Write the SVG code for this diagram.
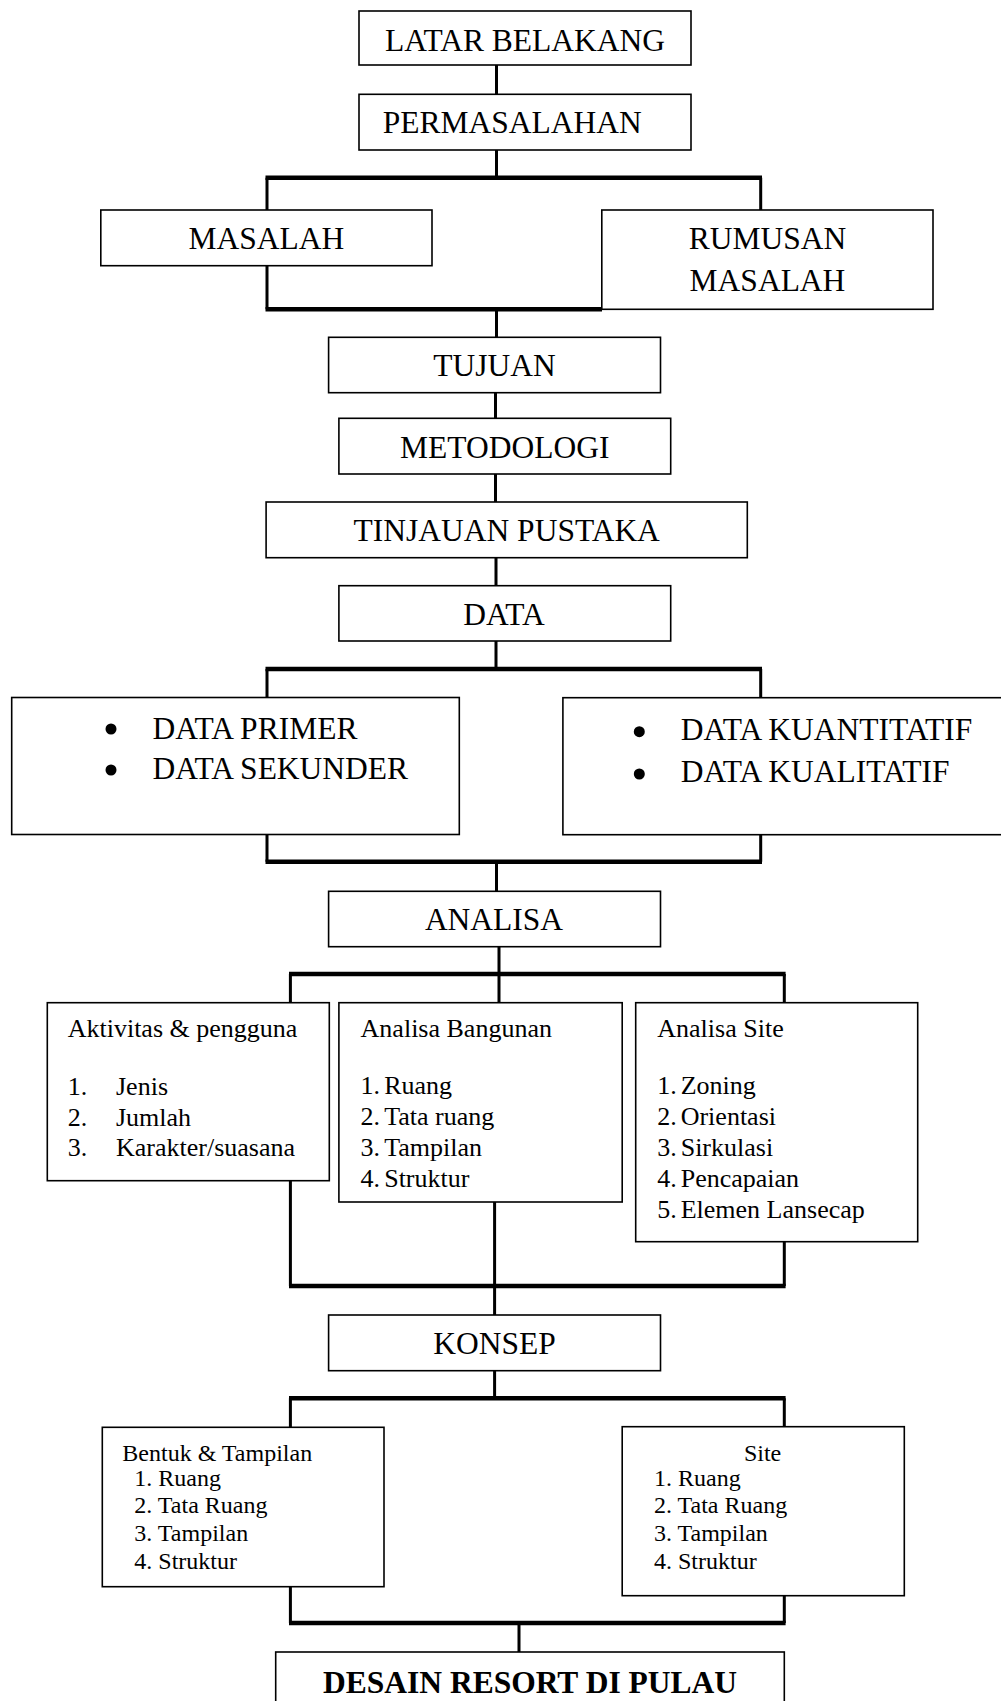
<svg xmlns="http://www.w3.org/2000/svg" width="1001" height="1701" viewBox="0 0 1001 1701">
<style>
.box{fill:#fff;stroke:#000;stroke-width:1.6}
.ln{stroke:#000;stroke-width:3;fill:none}
.bus{stroke:#000;stroke-width:4.5;fill:none}
.dot{fill:#000}
text{font-family:"Liberation Serif","Times New Roman",serif;fill:#000}
.big{font-size:31.5px}
.mid{font-size:26px}
.sm{font-size:24px}
.c{text-anchor:middle}
.b{font-weight:bold}
</style>
<rect width="1001" height="1701" fill="#fff"/>
<g id="connectors">
<path class="ln" d="M496.5 65V94.3M496.5 150V177.7M267 177.7V210M760.7 177.7V210M267 265.7V309.3M496.5 309.3V337.5M495.5 392.7V418.3M495.5 474V502M496 557.7V585.7M496 641V669M267 669V697.7M760.7 669V697.7M267 834.7V861.7M760.7 834.7V861.7M496.5 861.7V891.3M499 946.7V1002.7M290.4 974V1002.7M784.3 974V1002.7M290.4 1180.7V1286M494.6 1202V1315M784.3 1241.7V1286M494.6 1370.7V1398.3M290.4 1398.3V1427M784.3 1398.3V1427M290.4 1586.7V1623M784.3 1595.7V1623M519 1623V1652"/>
<path class="bus" d="M265.5 177.7H762M265.5 309.3H602M265.5 669H762M265.5 861.7H762M289 974H785.6M289 1286H785.6M289 1398.3H785.6M289 1623H785.6"/>
</g>
<g id="latar"><rect class="box" x="359" y="11" width="332" height="54"/><text class="big c" x="525" y="50.7">LATAR BELAKANG</text></g>
<g id="permasalahan"><rect class="box" x="359" y="94.3" width="332" height="55.7"/><text class="big" x="382.7" y="133.3">PERMASALAHAN</text></g>
<g id="masalah"><rect class="box" x="100.8" y="210" width="331.2" height="55.7"/><text class="big c" x="266.4" y="249.3">MASALAH</text></g>
<g id="rumusan"><rect class="box" x="601.8" y="210" width="331.2" height="99.3"/><text class="big c" x="767.5" y="249.3">RUMUSAN</text><text class="big c" x="767.5" y="291">MASALAH</text></g>
<g id="tujuan"><rect class="box" x="328.6" y="337.3" width="331.9" height="55.4"/><text class="big c" x="494.5" y="376">TUJUAN</text></g>
<g id="metodologi"><rect class="box" x="338.9" y="418.3" width="331.8" height="55.7"/><text class="big c" x="504.8" y="457.7">METODOLOGI</text></g>
<g id="tinjauan"><rect class="box" x="266.1" y="502" width="481.2" height="55.7"/><text class="big c" x="506.7" y="541">TINJAUAN PUSTAKA</text></g>
<g id="data"><rect class="box" x="338.9" y="585.7" width="331.8" height="55.3"/><text class="big c" x="504.1" y="625">DATA</text></g>
<g id="data-primer"><rect class="box" x="11.7" y="697.5" width="447.6" height="137"/>
<circle class="dot" cx="111" cy="729" r="5.5"/><text class="big" x="152.5" y="739.3">DATA PRIMER</text>
<circle class="dot" cx="111" cy="770" r="5.5"/><text class="big" x="152.5" y="778.7">DATA SEKUNDER</text></g>
<g id="data-kuantitatif"><rect class="box" x="562.9" y="697.7" width="450" height="137"/>
<circle class="dot" cx="639.3" cy="731.7" r="5.5"/><text class="big" x="680.7" y="740">DATA KUANTITATIF</text>
<circle class="dot" cx="639.3" cy="774" r="5.5"/><text class="big" x="680.7" y="781.7">DATA KUALITATIF</text></g>
<g id="analisa"><rect class="box" x="328.6" y="891.3" width="331.9" height="55.4"/><text class="big c" x="494" y="930">ANALISA</text></g>
<g id="aktivitas"><rect class="box" x="47.3" y="1002.7" width="282" height="178"/>
<text class="mid" x="67.7" y="1036.7">Aktivitas &amp; pengguna</text>
<text class="mid" x="67.7" y="1095">1.</text><text class="mid" x="116" y="1095">Jenis</text>
<text class="mid" x="67.7" y="1126">2.</text><text class="mid" x="116" y="1126">Jumlah</text>
<text class="mid" x="67.7" y="1156">3.</text><text class="mid" x="116" y="1156">Karakter/suasana</text></g>
<g id="analisa-bangunan"><rect class="box" x="338.9" y="1002.7" width="283.3" height="199.3"/>
<text class="mid" x="360.6" y="1037">Analisa Bangunan</text>
<text class="mid" x="360.6" y="1094">1.</text><text class="mid" x="384.2" y="1094">Ruang</text>
<text class="mid" x="360.6" y="1125">2.</text><text class="mid" x="384.2" y="1125">Tata ruang</text>
<text class="mid" x="360.6" y="1156">3.</text><text class="mid" x="384.2" y="1156">Tampilan</text>
<text class="mid" x="360.6" y="1186.7">4.</text><text class="mid" x="384.2" y="1186.7">Struktur</text></g>
<g id="analisa-site"><rect class="box" x="635.7" y="1002.7" width="282" height="239"/>
<text class="mid" x="657.3" y="1037">Analisa Site</text>
<text class="mid" x="657.3" y="1094">1.</text><text class="mid" x="680.7" y="1094">Zoning</text>
<text class="mid" x="657.3" y="1125">2.</text><text class="mid" x="680.7" y="1125">Orientasi</text>
<text class="mid" x="657.3" y="1156">3.</text><text class="mid" x="680.7" y="1156">Sirkulasi</text>
<text class="mid" x="657.3" y="1186.7">4.</text><text class="mid" x="680.7" y="1186.7">Pencapaian</text>
<text class="mid" x="657.3" y="1217.7">5.</text><text class="mid" x="680.7" y="1217.7">Elemen Lansecap</text></g>
<g id="konsep"><rect class="box" x="328.6" y="1315" width="331.9" height="55.7"/><text class="big c" x="494.5" y="1354">KONSEP</text></g>
<g id="bentuk"><rect class="box" x="102.3" y="1427.3" width="281.7" height="159.4"/>
<text class="sm" x="122.3" y="1460.7">Bentuk &amp; Tampilan</text>
<text class="sm" x="134.3" y="1485.7">1. Ruang</text>
<text class="sm" x="134.3" y="1513.3">2. Tata Ruang</text>
<text class="sm" x="134.3" y="1540.7">3. Tampilan</text>
<text class="sm" x="134.3" y="1569">4. Struktur</text></g>
<g id="site"><rect class="box" x="622.2" y="1426.7" width="282.1" height="169"/>
<text class="sm c" x="762.6" y="1460.7">Site</text>
<text class="sm" x="654" y="1485.7">1. Ruang</text>
<text class="sm" x="654" y="1513.3">2. Tata Ruang</text>
<text class="sm" x="654" y="1540.7">3. Tampilan</text>
<text class="sm" x="654" y="1569">4. Struktur</text></g>
<g id="desain"><rect class="box" x="275.7" y="1652" width="508.6" height="80"/><text class="big c b" x="530" y="1693">DESAIN RESORT DI PULAU</text></g>
</svg>
